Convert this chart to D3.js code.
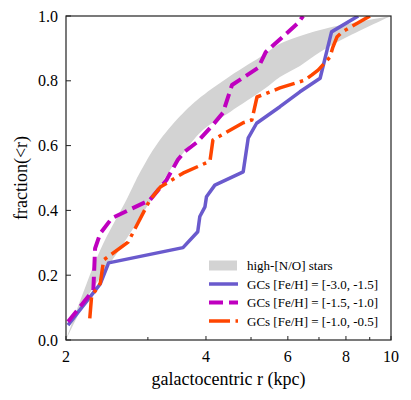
<!DOCTYPE html>
<html><head><meta charset="utf-8">
<script src="https://cdn.jsdelivr.net/npm/d3@7"></script>
<style>body{margin:0;background:#fff}svg{display:block}text{font-family:"Liberation Serif","Times New Roman",serif;fill:#000}</style>
</head><body><svg id="c" width="411" height="400"></svg>
<script>
// Gray band (high-[N/O] stars)
const bandUpperX = [2.0, 2.14, 2.37, 2.71, 2.89, 3.14, 3.52, 3.83, 4.51, 5.36, 5.77, 7.04, 10.0];
const bandUpperY = [0.0, 0.117, 0.278, 0.438, 0.519, 0.605, 0.691, 0.741, 0.815, 0.883, 0.914, 0.957, 1.0];
const bandLowerX = [2.0, 2.25, 2.41, 2.75, 3.35, 3.52, 3.94, 4.51, 5.31, 5.77, 6.37, 7.04, 8.04, 10.0];
const bandLowerY = [0.0, 0.145, 0.207, 0.330, 0.525, 0.565, 0.648, 0.704, 0.772, 0.812, 0.846, 0.889, 0.935, 1.0];
// GCs [Fe/H] = [-3.0, -1.5]
const gc1X = [2.02, 2.37, 2.47, 3.57, 3.84, 3.88, 3.98, 4.01, 4.18, 4.81, 4.93, 5.14, 5.77, 6.37, 7.04, 7.45, 8.5];
const gc1Y = [0.046, 0.173, 0.238, 0.285, 0.334, 0.381, 0.411, 0.442, 0.478, 0.519, 0.623, 0.669, 0.72, 0.766, 0.808, 0.951, 1.0];
// GCs [Fe/H] = [-1.5, -1.0]
const gc2X = [2.02, 2.29, 2.31, 2.37, 2.51, 3.03, 3.29, 3.48, 3.59, 3.83, 4.14, 4.35, 4.55, 5.18, 5.38, 6.31, 6.47];
const gc2Y = [0.056, 0.154, 0.283, 0.329, 0.376, 0.432, 0.494, 0.556, 0.580, 0.611, 0.664, 0.701, 0.787, 0.840, 0.889, 0.978, 1.0];
// GCs [Fe/H] = [-1.0, -0.5]
const gc3X = [2.25, 2.27, 2.37, 2.41, 2.72, 3.03, 3.19, 3.57, 4.08, 4.14, 4.80, 5.02, 5.15, 5.77, 6.53, 6.76, 6.97, 7.39, 7.50, 7.65, 7.85, 9.01];
const gc3Y = [0.067, 0.134, 0.175, 0.247, 0.302, 0.432, 0.472, 0.515, 0.552, 0.617, 0.670, 0.679, 0.750, 0.778, 0.802, 0.818, 0.833, 0.873, 0.904, 0.935, 0.951, 1.0];

const xMajorTicks = [2, 4, 6, 8, 10];
const xMinorTicks = [3, 5, 7, 9];
const yTicks = [0.0, 0.2, 0.4, 0.6, 0.8, 1.0];
const legendLabels = ["high-[N/O] stars", "GCs [Fe/H] = [-3.0, -1.5]", "GCs [Fe/H] = [-1.5, -1.0]", "GCs [Fe/H] = [-1.0, -0.5]"];
const xLabel = "galactocentric r (kpc)";
const yLabel = "fraction(<r)";

const L = 66, R = 391, T = 16, B = 340;
const svg = d3.select("#c");
const x = d3.scaleLog().domain([2, 10]).range([L, R]);
const y = d3.scaleLinear().domain([0, 1]).range([B, T]);
const zip = (a, b) => a.map((v, i) => [v, b[i]]);

svg.append("defs").append("clipPath").attr("id", "clip")
  .append("rect").attr("x", L).attr("y", T).attr("width", R - L).attr("height", B - T);
const g = svg.append("g").attr("clip-path", "url(#clip)");

// band
const smooth = d3.line().x(d => x(d[0])).y(d => y(d[1])).curve(d3.curveCatmullRom.alpha(0.5));
const up = smooth(zip(bandUpperX, bandUpperY));
const lo = smooth(zip(bandLowerX, bandLowerY).reverse());
g.append("path").attr("d", up + "L" + lo.slice(1) + "Z").attr("fill", "#d3d3d3").attr("stroke", "none");

const lin = d3.line().x(d => x(d[0])).y(d => y(d[1]));
const styles = [
  {c: "#6a5acd", w: 3.5, dash: null},
  {c: "#bf00bf", w: 4, dash: "14,6"},
  {c: "#ff4500", w: 3.5, dash: "21,5.5,3.5,5.5"}
];
const series = [zip(gc1X, gc1Y), zip(gc2X, gc2Y), zip(gc3X, gc3Y)];
series.forEach((s, i) => {
  g.append("path").attr("d", lin(s)).attr("fill", "none")
    .attr("stroke", styles[i].c).attr("stroke-width", styles[i].w)
    .attr("stroke-dasharray", styles[i].dash).attr("stroke-linejoin", "round");
});

// axes frame
svg.append("rect").attr("x", L).attr("y", T).attr("width", R - L).attr("height", B - T)
  .attr("fill", "none").attr("stroke", "#222").attr("stroke-width", 1.2);

// x ticks
const xa = svg.append("g");
xMajorTicks.forEach(t => {
  xa.append("line").attr("x1", x(t)).attr("x2", x(t)).attr("y1", B).attr("y2", B - 4).attr("stroke", "#222").attr("stroke-width", 1);
  xa.append("text").attr("x", x(t)).attr("y", B + 22).attr("text-anchor", "middle").attr("font-size", 16).text(t);
});
xMinorTicks.forEach(t => {
  xa.append("line").attr("x1", x(t)).attr("x2", x(t)).attr("y1", B).attr("y2", B - 3).attr("stroke", "#222").attr("stroke-width", 1);
});
// y ticks
yTicks.forEach(t => {
  svg.append("line").attr("x1", L).attr("x2", L + 5).attr("y1", y(t)).attr("y2", y(t)).attr("stroke", "#222").attr("stroke-width", 1);
  svg.append("text").attr("x", L - 8).attr("y", y(t) + 5.5).attr("text-anchor", "end").attr("font-size", 16).text(t.toFixed(1));
});

svg.append("text").attr("x", (L + R) / 2).attr("y", 385).attr("text-anchor", "middle").attr("font-size", 18).text(xLabel);
svg.append("text").attr("transform", `translate(27,${(T + B) / 2}) rotate(-90)`).attr("text-anchor", "middle").attr("font-size", 18).text(yLabel);

// legend
const lg = svg.append("g");
const rowY = [270, 288.5, 307, 325.5];
lg.append("rect").attr("x", 209).attr("y", rowY[0] - 9.5).attr("width", 28).attr("height", 10).attr("fill", "#d3d3d3");
styles.forEach((s, i) => {
  const yy = rowY[i + 1] - 4.5;
  lg.append("line").attr("x1", 209).attr("x2", 238).attr("y1", yy).attr("y2", yy)
    .attr("stroke", s.c).attr("stroke-width", s.w).attr("stroke-dasharray", s.dash);
});
legendLabels.forEach((t, i) => {
  lg.append("text").attr("x", 247).attr("y", rowY[i]).attr("font-size", 13).text(t);
});
</script></body></html>
